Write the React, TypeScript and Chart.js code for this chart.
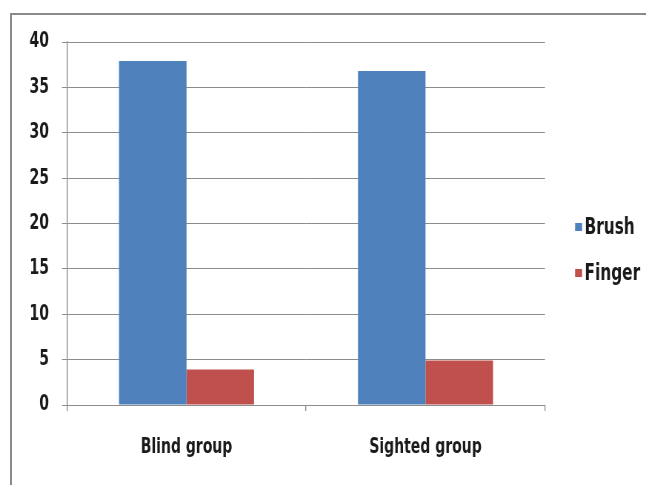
import React, { useEffect, useRef } from "react";
import { Chart, registerables } from "chart.js";

Chart.register(...registerables);

const categories = ["Blind group", "Sighted group"];
const seriesNames = ["Brush", "Finger"];
const brushValues = [37.9, 36.8];
const fingerValues = [3.9, 4.9];
const seriesColors = ["#4F81BD", "#C0504D"];
const yMin = 0;
const yMax = 40;
const yStep = 5;

// horizontal squeeze to imitate the narrow typeface of the original
const S = 1.35;
const W = 646;
const H = 485;

const FONT_FAMILY = "'DejaVu Sans Condensed', 'DejaVu Sans', sans-serif";
const FONT_SIZE = 21;
const GRID = "#8c8c8c";
const TEXT = "#1a1a1a";

const sideLegend = {
  id: "sideLegend",
  afterDraw(chart: any, _args: any, opts: any) {
    const ctx = chart.ctx;
    ctx.save();
    ctx.font = `bold ${opts.fontSize}px ${FONT_FAMILY}`;
    ctx.textBaseline = "middle";
    ctx.textAlign = "left";
    chart.data.datasets.forEach((ds: any, i: number) => {
      const cy = opts.y + i * opts.spacing;
      ctx.fillStyle = ds.backgroundColor;
      ctx.fillRect(opts.x, cy - opts.boxH / 2, opts.boxW, opts.boxH);
      ctx.fillStyle = TEXT;
      ctx.fillText(ds.label, opts.x + opts.boxW + opts.gap, cy + 1);
    });
    ctx.restore();
  },
};

export default function App() {
  const ref = useRef<HTMLCanvasElement | null>(null);

  useEffect(() => {
    if (!ref.current) return;
    const chart = new Chart(ref.current, {
      type: "bar",
      data: {
        labels: categories,
        datasets: [
          { label: seriesNames[0], data: brushValues, backgroundColor: seriesColors[0] },
          { label: seriesNames[1], data: fingerValues, backgroundColor: seriesColors[1] },
        ],
      },
      plugins: [sideLegend],
      options: {
        responsive: false,
        animation: false,
        devicePixelRatio: 1,
        layout: { padding: { top: 42, right: 101 * S, bottom: 0, left: 0 } },
        datasets: {
          bar: { categoryPercentage: 0.565, barPercentage: 1.0, borderWidth: 0 },
        },
        plugins: {
          legend: { display: false },
          tooltip: { enabled: false },
          sideLegend: {
            x: 575 * S,
            y: 227,
            spacing: 46,
            boxW: 7 * S,
            boxH: 8,
            gap: 2.5 * S,
            fontSize: 23,
          },
        } as any,
        scales: {
          x: {
            afterFit: (s: any) => { s.height = 80; },
            grid: {
              offset: true,
              drawOnChartArea: false,
              drawTicks: true,
              tickLength: 6,
              color: GRID,
              lineWidth: S,
            },
            border: { display: true, color: GRID, width: 1 },
            ticks: {
              padding: 24,
              color: TEXT,
              font: { family: FONT_FAMILY, size: FONT_SIZE, weight: "bold" },
            },
          },
          y: {
            min: yMin,
            max: yMax,
            afterFit: (s: any) => { s.width = 67 * S; },
            grid: { color: GRID, drawTicks: true, tickLength: 5 * S },
            border: { display: true, color: GRID, width: S },
            ticks: {
              stepSize: yStep,
              padding: 13 * S,
              color: TEXT,
              font: { family: FONT_FAMILY, size: FONT_SIZE, weight: "bold" },
            },
          },
        },
      },
    });
    return () => chart.destroy();
  }, []);

  return (
    <div>
      <div
        style={{
          position: "absolute",
          left: 10,
          top: 13,
          width: 636,
          height: 472,
          boxSizing: "border-box",
          borderLeft: "2px solid #8a8a8a",
          borderTop: "2px solid #8a8a8a",
        }}
      />
      <canvas
        ref={ref}
        width={Math.round(W * S)}
        height={H}
        style={{ position: "absolute", left: 0, top: 0, width: W, height: H }}
      />
    </div>
  );
}
